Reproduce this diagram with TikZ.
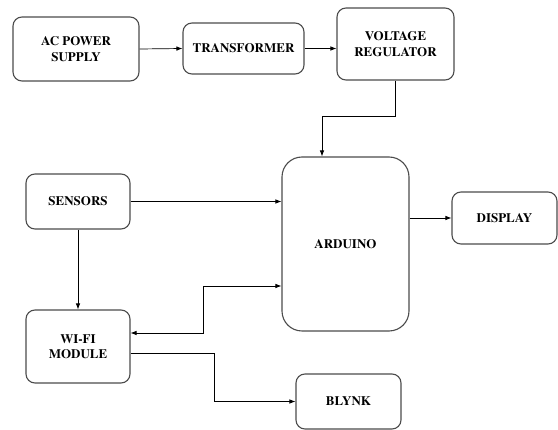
\documentclass[tikz,border=0pt]{standalone}
\usepackage[T1]{fontenc}
\usepackage{mathptmx}
\usetikzlibrary{arrows.meta}
\begin{document}
\begin{tikzpicture}[x=1pt,y=-1pt,
  block/.style={shape=rectangle,rounded corners=9pt,draw=black!70,line width=1.1pt,
    align=center,inner sep=0pt,font=\rmfamily\bfseries\fontsize{13}{15.5}\selectfont},
  link/.style={-{Latex[length=6pt,width=4.5pt]},line width=0.7pt},
  both/.style={{Latex[length=6pt,width=4.5pt]}-{Latex[length=6pt,width=4.5pt]},line width=0.7pt}]
\useasboundingbox (0,0) rectangle (558,430);
\node(ac) at (76,49)[block,minimum width=126pt,minimum height=64pt]        {AC POWER\\SUPPLY};
\node(tr) at (243.5,48.5)[block,minimum width=121pt,minimum height=51pt]  {TRANSFORMER};
\node(vr) at (395.5,44)[block,minimum width=117pt,minimum height=72pt]    {VOLTAGE\\REGULATOR};
\node(sen) at (78,201.5)[block,minimum width=104pt,minimum height=55pt]   {SENSORS};
\node(wifi) at (78,346.5)[block,minimum width=104pt,minimum height=73pt]  {WI-FI\\MODULE};
\node(ard) at (345.5,244)[block,rounded corners=20pt,minimum width=127pt,minimum height=174pt] {ARDUINO};
\node(disp) at (504.5,218)[block,minimum width=105pt,minimum height=52pt] {DISPLAY};
\node(bly) at (348.5,401.5)[block,minimum width=105pt,minimum height=55pt] {BLYNK};
\draw[link] (ac.east) -- (tr.west);
\draw[link] (tr.east) -- (tr.east -| vr.west);
\draw[link] (vr.south) |- ([xshift=-23.5pt,yshift=40pt]ard.north) -- ([xshift=-23.5pt]ard.north);
\draw[link] (sen.east) -- (sen.east -| ard.west);
\draw[link] (sen) -- (wifi);
\draw[both] ([yshift=13.5pt]wifi.east) -| ([xshift=-78pt,yshift=-42pt]ard.west) -- ([yshift=-42pt]ard.west);
\draw[link] ([yshift=-6.5pt]wifi.east) -| ([xshift=-81pt]bly.west) -- (bly.west);
\draw[link] (ard.east |- disp.west) -- (disp.west);
\end{tikzpicture}
\end{document}
